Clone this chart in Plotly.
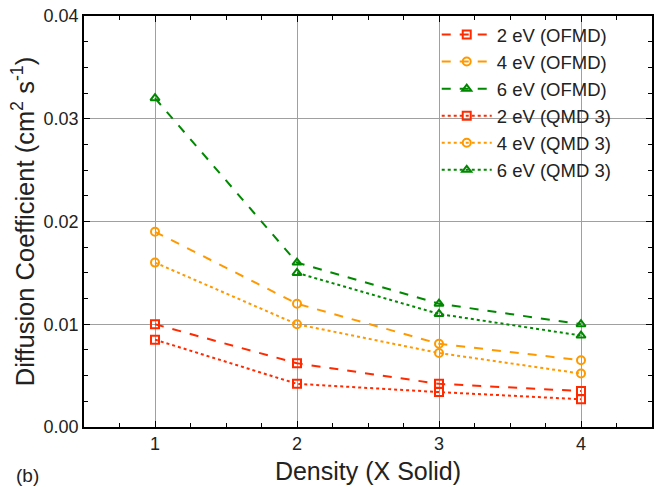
import plotly.graph_objects as go

density = [1, 2, 3, 4]
ofmd_2 = [0.0100, 0.0062, 0.0042, 0.0035]
ofmd_4 = [0.0190, 0.0120, 0.0081, 0.0065]
ofmd_6 = [0.0320, 0.0160, 0.0120, 0.0100]
qmd_2 = [0.0085, 0.0042, 0.0034, 0.0027]
qmd_4 = [0.0160, 0.0100, 0.0072, 0.0052]
qmd_6 = [0.0150, 0.0110, 0.0089]
qmd_6_x = [2, 3, 4]

RED = "#ff2a00"
ORANGE = "#ff9900"
GREEN = "#008800"

series = [
    ("2 eV (OFMD)", density, ofmd_2, RED, "dash", "square-open"),
    ("4 eV (OFMD)", density, ofmd_4, ORANGE, "dash", "circle-open"),
    ("6 eV (OFMD)", density, ofmd_6, GREEN, "dash", "triangle-up-open"),
    ("2 eV (QMD 3)", density, qmd_2, RED, "dot", "square-open"),
    ("4 eV (QMD 3)", density, qmd_4, ORANGE, "dot", "circle-open"),
    ("6 eV (QMD 3)", qmd_6_x, qmd_6, GREEN, "dot", "triangle-up-open"),
]

fig = go.Figure()
for name, xs, ys, col, dash, sym in series:
    fig.add_trace(go.Scatter(
        x=xs, y=ys, name=name, mode="lines+markers",
        line=dict(color=col, dash=dash, width=2),
        marker=dict(symbol=sym, size=8, color=col, line=dict(width=2, color=col)),
    ))

font_family = "Liberation Sans, Arial, sans-serif"
TXT = "#222222"
axis_common = dict(
    showline=True, linecolor="black", linewidth=1.5, mirror="ticks",
    ticks="inside", ticklen=6, tickcolor="black",
    showgrid=True, gridcolor="#a0a0a0", gridwidth=1, zeroline=False,
    tickfont=dict(size=18, color=TXT, family=font_family),
)

fig.update_layout(
    width=660, height=487,
    margin=dict(l=84, r=6, t=16, b=60),
    paper_bgcolor="white", plot_bgcolor="white",
    font=dict(family=font_family, color=TXT),
    legend=dict(
        x=0.621, y=1.0, xanchor="left", yanchor="top",
        bgcolor="rgba(255,255,255,0)", font=dict(size=18.5, color=TXT),
        tracegroupgap=0, itemwidth=50,
    ),
    showlegend=True,
)
fig.update_xaxes(
    range=[0.5, 4.5], tickvals=[1, 2, 3, 4],
    minor=dict(dtick=0.25, tick0=0.5, ticks="inside", ticklen=4, tickcolor="black", showgrid=False),
    title=dict(text="Density (X Solid)", font=dict(size=25, color=TXT), standoff=9),
    **axis_common,
)
fig.update_yaxes(
    range=[0, 0.04], dtick=0.01, tickformat=".2f",
    minor=dict(dtick=0.0025, ticks="inside", ticklen=4, tickcolor="black", showgrid=False),
    title=dict(text="Diffusion Coefficient (cm<sup>2</sup> s<sup>-1</sup>)", font=dict(size=25.5, color=TXT), standoff=2),
    **axis_common,
)
fig.add_annotation(
    text="(b)", xref="paper", yref="paper", x=-0.1, y=-0.119,
    xanchor="center", yanchor="middle", showarrow=False,
    font=dict(size=19, color=TXT),
)

fig.write_html("out.html")
